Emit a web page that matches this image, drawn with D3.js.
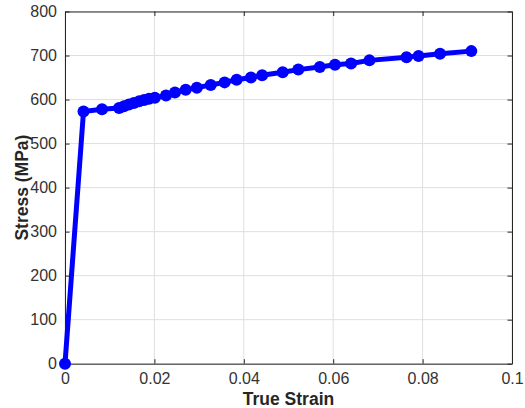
<!DOCTYPE html>
<html>
<head>
<meta charset="utf-8">
<script src="https://cdn.jsdelivr.net/npm/d3@7"></script>
<style>
  html, body { margin: 0; padding: 0; background: #fff; }
  svg { display: block; }
</style>
</head>
<body>
<svg id="chart" width="525" height="408"></svg>
<script>
// True stress-strain data (strain, MPa)
const strain = [0, 0.00414, 0.00828, 0.0121, 0.0132, 0.0143, 0.0154, 0.0166, 0.0177, 0.0188, 0.0201,
  0.0226, 0.0246, 0.0270, 0.0295, 0.0326, 0.0357, 0.0384, 0.0416, 0.0441, 0.0487, 0.0522,
  0.0570, 0.0604, 0.0640, 0.0681, 0.0764, 0.0791, 0.0839, 0.0909];
const stress = [0, 573, 578, 581, 585, 589, 592, 596, 599, 602, 604,
  609, 616, 622, 627, 633, 639, 645, 650, 655, 662, 668,
  674, 679, 682, 689, 696, 699, 704, 710];
const xTicks = [0, 0.02, 0.04, 0.06, 0.08, 0.1];
const yTicks = [0, 100, 200, 300, 400, 500, 600, 700, 800];

const margin = { left: 65, right: 13, top: 11.5, bottom: 44.3 };
const W = 525, H = 408;
const iw = W - margin.left - margin.right;
const ih = H - margin.top - margin.bottom;

const svg = d3.select("#chart");
const g = svg.append("g").attr("transform", `translate(${margin.left},${margin.top})`);

const x = d3.scaleLinear().domain([0, 0.1]).range([0, iw]);
const y = d3.scaleLinear().domain([0, 800]).range([ih, 0]);

const axisColor = "#262626";
const font = "Liberation Sans, Arial, Helvetica, sans-serif";

// grid
g.append("g").selectAll("line").data(xTicks).join("line")
  .attr("x1", d => x(d)).attr("x2", d => x(d)).attr("y1", 0).attr("y2", ih)
  .attr("stroke", "#dfdfdf").attr("stroke-width", 1);
g.append("g").selectAll("line").data(yTicks).join("line")
  .attr("y1", d => y(d)).attr("y2", d => y(d)).attr("x1", 0).attr("x2", iw)
  .attr("stroke", "#dfdfdf").attr("stroke-width", 1);

// axes: ticks point inward, box on all sides
const tickLen = 4.5;
const styleAxis = sel => {
  sel.selectAll(".domain").attr("stroke", axisColor);
  sel.selectAll(".tick line").attr("stroke", axisColor);
  sel.selectAll("text").attr("fill", "#333").style("font-family", font).style("font-size", "16px");
};
const fmtX = d => d === 0 ? "0" : d3.format("~g")(d);

g.append("g").attr("transform", `translate(0,${ih})`)
  .call(d3.axisBottom(x).tickValues(xTicks).tickFormat(fmtX).tickSizeInner(-tickLen).tickSizeOuter(0).tickPadding(9))
  .call(styleAxis);
g.append("g")
  .call(d3.axisTop(x).tickValues(xTicks).tickFormat("").tickSizeInner(-tickLen).tickSizeOuter(0))
  .call(styleAxis);
g.append("g")
  .call(d3.axisLeft(y).tickValues(yTicks).tickSizeInner(-tickLen).tickSizeOuter(0).tickPadding(8))
  .call(styleAxis);
g.append("g").attr("transform", `translate(${iw},0)`)
  .call(d3.axisRight(y).tickValues(yTicks).tickFormat("").tickSizeInner(-tickLen).tickSizeOuter(0))
  .call(styleAxis);

// data line and markers
const pts = strain.map((s, i) => [s, stress[i]]);
const blue = "#0000ff";
const plot = g.append("g");
plot.append("path").datum(pts)
  .attr("fill", "none").attr("stroke", blue).attr("stroke-width", 5)
  .attr("stroke-linejoin", "round")
  .attr("d", d3.line().x(d => x(d[0])).y(d => y(d[1])));
plot.selectAll("circle").data(pts).join("circle")
  .attr("cx", d => x(d[0])).attr("cy", d => y(d[1])).attr("r", 6)
  .attr("fill", blue);

// axis titles
svg.append("text")
  .attr("x", margin.left + iw / 2).attr("y", 405)
  .attr("text-anchor", "middle")
  .attr("fill", axisColor).style("font-family", font).style("font-size", "17.5px").style("font-weight", "bold")
  .text("True Strain");
svg.append("text")
  .attr("transform", `translate(28,${margin.top + ih / 2}) rotate(-90)`)
  .attr("text-anchor", "middle")
  .attr("fill", axisColor).style("font-family", font).style("font-size", "17.5px").style("font-weight", "bold")
  .text("Stress (MPa)");
</script>
</body>
</html>
